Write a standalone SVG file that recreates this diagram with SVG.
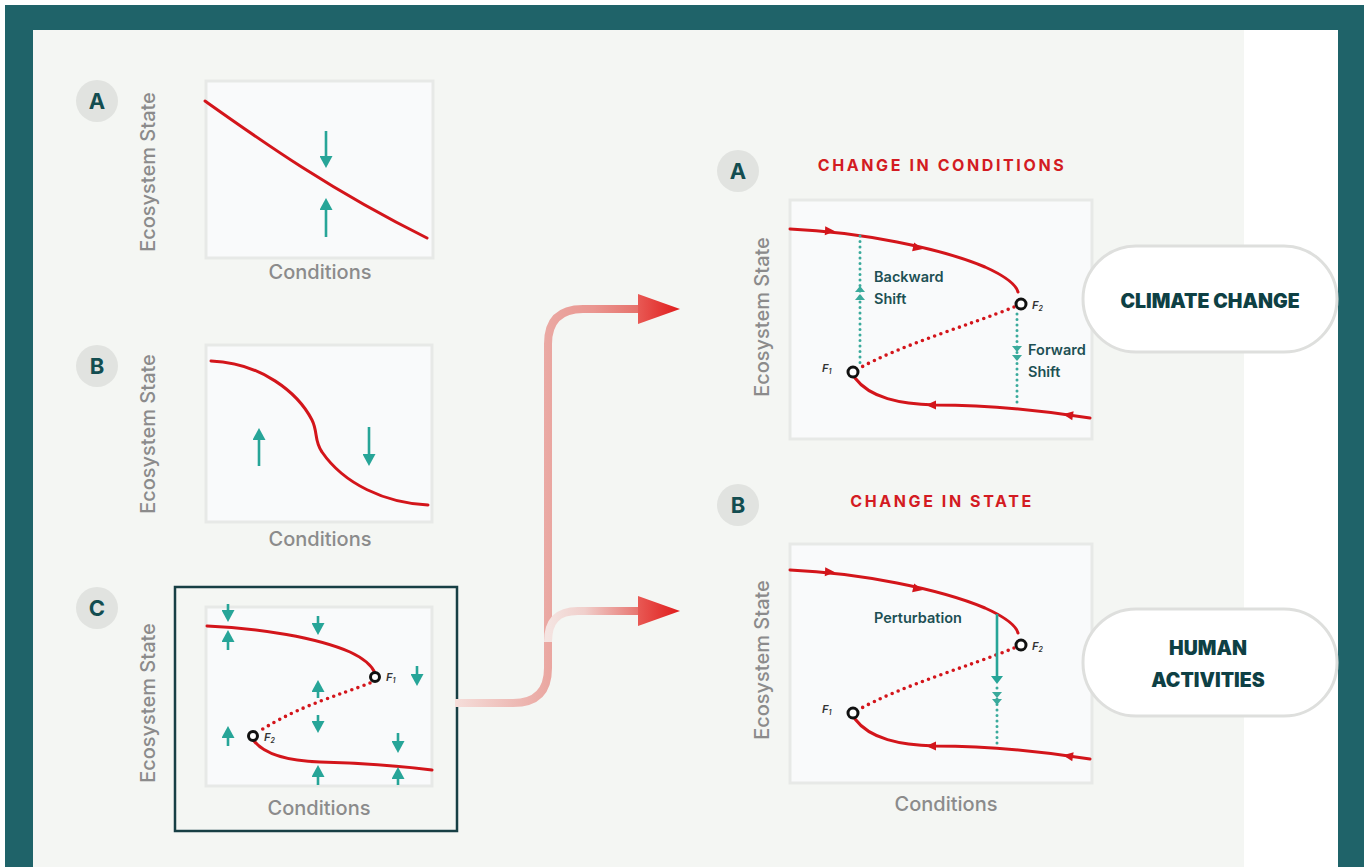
<svg xmlns="http://www.w3.org/2000/svg" width="1364" height="867" viewBox="0 0 1364 867">
<defs>
<style>
.bg{fill:#F4F6F3}
.plot{fill:#F9FAFB;stroke:#E7E9E7;stroke-width:3}
.lbl{fill:#E1E3E0}
.lbltx{font-family:Inter,"Liberation Sans",sans-serif;font-weight:700;font-size:22px;fill:#134D50;text-anchor:middle}
.axis{font-family:Inter,"Liberation Sans",sans-serif;font-weight:500;font-size:20px;fill:#8B8B8B;text-anchor:middle}
.curve{fill:none;stroke:#D3151B;stroke-width:3;stroke-linecap:round}
.dotted{fill:none;stroke:#D3151B;stroke-width:3.6;stroke-linecap:round;stroke-dasharray:0 6.5}
.tarrow{fill:none;stroke:#27A598;stroke-width:2.6;marker-end:url(#th)}
.tsolid{fill:none;stroke:#27A598;stroke-width:2.6}
.tdot{fill:none;stroke:#3AAA9C;stroke-width:3;stroke-linecap:round;stroke-dasharray:0 5.5}
.fp{fill:#fff;stroke:#111;stroke-width:3}
.fl{font-family:Inter,"Liberation Sans",sans-serif;font-style:italic;font-weight:600;font-size:11px;fill:#333}
.title{font-family:Inter,"Liberation Sans",sans-serif;font-weight:700;font-size:16px;fill:#D31B22;letter-spacing:2.6px;text-anchor:middle}
.note{font-family:Inter,"Liberation Sans",sans-serif;font-weight:600;font-size:14.5px;fill:#1D5054}
.pill{fill:#fff;stroke:#DEDFDD;stroke-width:3}
.pilltx{font-family:Inter,"Liberation Sans",sans-serif;font-weight:900;font-size:19.5px;fill:#0E4044;text-anchor:middle}
.rtri{fill:#D3151B}
.ttri{fill:#3AAA9C}
.frameC{fill:none;stroke:#173F44;stroke-width:2.5}
</style>
<marker id="th" markerUnits="userSpaceOnUse" markerWidth="13" markerHeight="13" viewBox="0 0 12 13" refX="1" refY="6.5" orient="auto">
<path d="M0,0 L12,6.5 L0,13 Z" fill="#27A598"/>
</marker>
<linearGradient id="gMain" gradientUnits="userSpaceOnUse" x1="455" y1="0" x2="640" y2="0">
<stop offset="0" stop-color="#F5DEDA"/>
<stop offset="0.3" stop-color="#EEBDB8"/>
<stop offset="0.5" stop-color="#EAA8A2"/>
<stop offset="0.75" stop-color="#EA9690"/>
<stop offset="1" stop-color="#E6706A"/>
</linearGradient>
<linearGradient id="gBranch" gradientUnits="userSpaceOnUse" x1="548" y1="0" x2="640" y2="0">
<stop offset="0" stop-color="#F4E4E1"/>
<stop offset="0.4" stop-color="#F0CFCB"/>
<stop offset="1" stop-color="#E7736D"/>
</linearGradient>
<linearGradient id="gHead" gradientUnits="userSpaceOnUse" x1="638" y1="0" x2="680" y2="0">
<stop offset="0" stop-color="#E85954"/>
<stop offset="1" stop-color="#E01C1C"/>
</linearGradient>
</defs>

<rect x="0" y="0" width="1364" height="867" fill="#fff"/>
<rect x="5" y="5" width="1359" height="862" fill="#1F6369"/>
<rect x="33" y="30" width="1305" height="837" fill="#fff"/>
<rect class="bg" x="33" y="30" width="1211" height="837"/>

<!-- Left A -->
<g id="left-a">
<circle class="lbl" cx="97" cy="101" r="21"/>
<text class="lbltx" x="97" y="109">A</text>
<rect class="plot" x="206" y="81" width="227" height="177"/>
<text class="axis" transform="translate(155,172) rotate(-90)">Ecosystem State</text>
<text class="axis" x="320" y="279">Conditions</text>
<path class="curve" d="M205,101 C260,140 330,190 427,238"/>
<path class="tarrow" d="M326,131 V157"/>
<path class="tarrow" d="M326,237 V209"/>
</g>

<!-- Left B -->
<g id="left-b">
<circle class="lbl" cx="97" cy="366" r="21"/>
<text class="lbltx" x="97" y="374">B</text>
<rect class="plot" x="206" y="345" width="226" height="177"/>
<text class="axis" transform="translate(155,434) rotate(-90)">Ecosystem State</text>
<text class="axis" x="320" y="546">Conditions</text>
<path class="curve" d="M211,361 C262,363 298,393 312,420 C318,432 314,441 322,452 C344,484 385,503 428,505"/>
<path class="tarrow" d="M259,466 V439"/>
<path class="tarrow" d="M369,427 V455"/>
</g>

<!-- Left C -->
<g id="left-c">
<circle class="lbl" cx="97" cy="608" r="21"/>
<text class="lbltx" x="97" y="616">C</text>
<rect class="frameC" x="175" y="587" width="282" height="244"/>
<rect class="plot" x="206" y="607" width="226" height="179"/>
<text class="axis" transform="translate(155,703) rotate(-90)">Ecosystem State</text>
<text class="axis" x="319" y="815">Conditions</text>
<path class="curve" d="M207,626 C260,628 318,638 350,652 C365,659 372,666 375,673"/>
<path class="dotted" d="M370,683 C340,695 300,705 258,732"/>
<path class="curve" d="M254,741 C265,755 290,761 320,762 C360,763 400,766 432,770"/>
<circle class="fp" cx="375" cy="677" r="4.5"/>
<text class="fl" x="386" y="681">F<tspan font-size="7" dy="2">1</tspan></text>
<circle class="fp" cx="253" cy="736" r="4.5"/>
<text class="fl" x="264" y="741">F<tspan font-size="7" dy="2">2</tspan></text>
<path class="tarrow" d="M228,604 V611"/>
<path class="tarrow" d="M228,650 V641"/>
<path class="tarrow" d="M318,616 V624"/>
<path class="tarrow" d="M417,666 V675"/>
<path class="tarrow" d="M318,698 V691"/>
<path class="tarrow" d="M318,715 V722"/>
<path class="tarrow" d="M228,746 V737"/>
<path class="tarrow" d="M398,733 V742"/>
<path class="tarrow" d="M398,785 V778"/>
<path class="tarrow" d="M318,785 V776"/>
</g>

<!-- Connectors -->
<g id="connectors">
<path d="M455,703 H513 Q548,703 548,668 V344 Q548,309 583,309 H640" fill="none" stroke="url(#gMain)" stroke-width="8"/>
<path d="M548,642 C548,621 557,611 578,611 H640" fill="none" stroke="url(#gBranch)" stroke-width="8"/>
<polygon points="638,294 680,309 638,324" fill="url(#gHead)"/>
<polygon points="638,596 680,611 638,626" fill="url(#gHead)"/>
</g>

<!-- Right A -->
<g id="right-a">
<circle class="lbl" cx="738" cy="171" r="21"/>
<text class="lbltx" x="738" y="179">A</text>
<text class="title" x="942" y="171">CHANGE IN CONDITIONS</text>
<rect class="plot" x="790" y="200" width="302" height="239"/>
<text class="axis" transform="translate(769,317) rotate(-90)">Ecosystem State</text>
<g id="curves-a">
<path class="curve" d="M790,229 C860,232 940,248 985,267 C1005,276 1016,285 1018,292"/>
<path class="dotted" d="M1014,307 C970,325 900,345 858,369"/>
<path class="curve" d="M855,378 C870,398 900,404 935,405 C990,405 1040,410 1090,418"/>
<polygon class="rtri" points="-5,-4.5 5,0 -5,4.5" transform="translate(830,231) rotate(3)"/>
<polygon class="rtri" points="-5,-4.5 5,0 -5,4.5" transform="translate(918,248) rotate(13)"/>
<polygon class="rtri" points="-5,-4.5 5,0 -5,4.5" transform="translate(931,405) rotate(180)"/>
<polygon class="rtri" points="-5,-4.5 5,0 -5,4.5" transform="translate(1068,415) rotate(189)"/>
<circle class="fp" cx="1021" cy="304" r="5"/>
<text class="fl" x="1032" y="309">F<tspan font-size="7" dy="2">2</tspan></text>
<circle class="fp" cx="853" cy="372" r="5"/>
<text class="fl" x="822" y="372">F<tspan font-size="7" dy="2">1</tspan></text>
</g>
<path class="tdot" d="M860,236 V365"/>
<polygon class="ttri" points="855,292 865,292 860,286"/>
<polygon class="ttri" points="855,300 865,300 860,294"/>
<text class="note" x="874" y="282">Backward</text>
<text class="note" x="874" y="304">Shift</text>
<path class="tdot" d="M1017,314 V406"/>
<polygon class="ttri" points="1012,346 1022,346 1017,352"/>
<polygon class="ttri" points="1012,355 1022,355 1017,361"/>
<text class="note" x="1028" y="355">Forward</text>
<text class="note" x="1028" y="377">Shift</text>
</g>

<!-- Right B -->
<g id="right-b">
<circle class="lbl" cx="738" cy="505" r="21"/>
<text class="lbltx" x="738" y="513">B</text>
<text class="title" x="942" y="507">CHANGE IN STATE</text>
<rect class="plot" x="790" y="544" width="302" height="239"/>
<text class="axis" transform="translate(769,660) rotate(-90)">Ecosystem State</text>
<text class="axis" x="946" y="811">Conditions</text>
<g transform="translate(0,341)">
<path class="curve" d="M790,229 C860,232 940,248 985,267 C1005,276 1016,285 1018,292"/>
<path class="dotted" d="M1014,307 C970,325 900,345 858,369"/>
<path class="curve" d="M855,378 C870,398 900,404 935,405 C990,405 1040,410 1090,418"/>
<polygon class="rtri" points="-5,-4.5 5,0 -5,4.5" transform="translate(830,231) rotate(3)"/>
<polygon class="rtri" points="-5,-4.5 5,0 -5,4.5" transform="translate(918,248) rotate(13)"/>
<polygon class="rtri" points="-5,-4.5 5,0 -5,4.5" transform="translate(931,405) rotate(180)"/>
<polygon class="rtri" points="-5,-4.5 5,0 -5,4.5" transform="translate(1068,415) rotate(189)"/>
<circle class="fp" cx="1021" cy="304" r="5"/>
<text class="fl" x="1032" y="309">F<tspan font-size="7" dy="2">2</tspan></text>
<circle class="fp" cx="853" cy="372" r="5"/>
<text class="fl" x="822" y="372">F<tspan font-size="7" dy="2">1</tspan></text>
</g>
<text class="note" x="874" y="623">Perturbation</text>
<path class="tsolid" d="M997,614 V676"/>
<polygon points="991,676 1003,676 997,684" fill="#27A598"/>
<path class="tdot" d="M997,688 V748"/>
<polygon class="ttri" points="992,692 1002,692 997,698"/>
<polygon class="ttri" points="992,699 1002,699 997,705"/>
</g>

<!-- Pills -->
<g id="climate-change">
<rect class="pill" x="1083" y="246" width="254" height="106" rx="53"/>
<text class="pilltx" x="1210" y="308">CLIMATE CHANGE</text>
</g>
<g id="human-activities">
<rect class="pill" x="1083" y="609" width="254" height="107" rx="53"/>
<text class="pilltx" x="1208" y="655">HUMAN</text>
<text class="pilltx" x="1208" y="687">ACTIVITIES</text>
</g>
</svg>
